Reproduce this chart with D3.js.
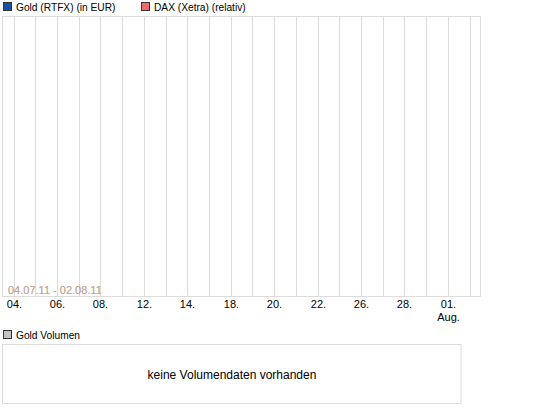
<!DOCTYPE html>
<html>
<head>
<meta charset="utf-8">
<script src="https://cdn.jsdelivr.net/npm/d3@7"></script>
<style>
  body { margin: 0; background: #fff; }
  text { font-family: "Liberation Sans", Arial, sans-serif; }
</style>
</head>
<body>
<div class="box"></div>
<script>
// trading days shown on the x axis (04.07.11 - 02.08.11)
const days = ["04.07", "05.07", "06.07", "07.07", "08.07",
              "11.07", "12.07", "13.07", "14.07", "15.07",
              "18.07", "19.07", "20.07", "21.07", "22.07",
              "25.07", "26.07", "27.07", "28.07", "29.07",
              "01.08", "02.08"];
// labels only on every second day
const tickLabels = ["04.", "06.", "08.", "12.", "14.", "18.", "20.", "22.", "26.", "28.", "01."];
const legendNames = ["Gold (RTFX) (in EUR)", "DAX (Xetra) (relativ)"];
const legendColors = ["#1c4fa8", "#f26a6a"];
const rangeLabel = "04.07.11 - 02.08.11";
const volumeName = "Gold Volumen";
const volumeMsg = "keine Volumendaten vorhanden";

const w = 545;
const h = 413;

const svg = d3.select(".box")
    .append("svg")
    .attr("width", w)
    .attr("height", h);

// plot box
const boxLeft = 2.5, boxRight = 480.5, boxTop = 16.5, boxBottom = 296.5;

const xScale = d3.scalePoint()
    .domain(days)
    .range([13.5, 469.5]);

// grid lines (one per trading day)
svg.append("g")
    .selectAll("line")
    .data(days)
    .enter()
    .append("line")
    .attr("x1", d => Math.round(xScale(d)) + 0.5)
    .attr("x2", d => Math.round(xScale(d)) + 0.5)
    .attr("y1", boxTop)
    .attr("y2", boxBottom)
    .style("stroke", "#dcdcdc");

svg.append("rect")
    .attr("x", boxLeft)
    .attr("y", boxTop)
    .attr("width", boxRight - boxLeft)
    .attr("height", boxBottom - boxTop)
    .style("fill", "none")
    .style("stroke", "#dcdcdc");

// x labels
const labelled = days.filter((d, i) => i % 2 === 0);
svg.append("g")
    .selectAll("text")
    .data(labelled)
    .enter()
    .append("text")
    .attr("x", d => Math.round(xScale(d)) + 0.5)
    .attr("y", 308)
    .attr("text-anchor", "middle")
    .style("font-size", "11px")
    .style("fill", "#000")
    .text((d, i) => tickLabels[i]);

svg.append("text")
    .attr("x", Math.round(xScale("01.08")) + 0.5)
    .attr("y", 321)
    .attr("text-anchor", "middle")
    .style("font-size", "11px")
    .text("Aug.");

// date range label (two overlapping series labels)
svg.append("text")
    .attr("x", 8)
    .attr("y", 294)
    .style("font-size", "11px")
    .style("fill", "#9fb0cf")
    .text(rangeLabel);
svg.append("text")
    .attr("x", 8)
    .attr("y", 294)
    .style("font-size", "11px")
    .style("fill", "#d9a36e")
    .style("opacity", 0.7)
    .text(rangeLabel);

// legend
const legend = svg.append("g").attr("id", "legend");
const legendX = [3.5, 141.5];
legend.selectAll("rect")
    .data(legendNames)
    .enter()
    .append("rect")
    .attr("x", (d, i) => legendX[i])
    .attr("y", 2.5)
    .attr("width", 8)
    .attr("height", 8)
    .style("fill", (d, i) => legendColors[i])
    .style("stroke", "#333");
legend.selectAll("text")
    .data(legendNames)
    .enter()
    .append("text")
    .attr("x", (d, i) => legendX[i] + 12.5)
    .attr("y", 10.5)
    .style("font-size", "10.2px")
    .text(d => d);

// volume panel
svg.append("rect")
    .attr("x", 3.5)
    .attr("y", 330.5)
    .attr("width", 8)
    .attr("height", 8)
    .style("fill", "#c4c4c4")
    .style("stroke", "#333");
svg.append("text")
    .attr("x", 16)
    .attr("y", 338.5)
    .style("font-size", "10.2px")
    .text(volumeName);

svg.append("rect")
    .attr("x", 2.5)
    .attr("y", 344.5)
    .attr("width", 458.5)
    .attr("height", 59)
    .style("fill", "none")
    .style("stroke", "#dcdcdc");

svg.append("text")
    .attr("x", 232)
    .attr("y", 379)
    .attr("text-anchor", "middle")
    .style("font-size", "12px")
    .text(volumeMsg);
</script>
</body>
</html>
